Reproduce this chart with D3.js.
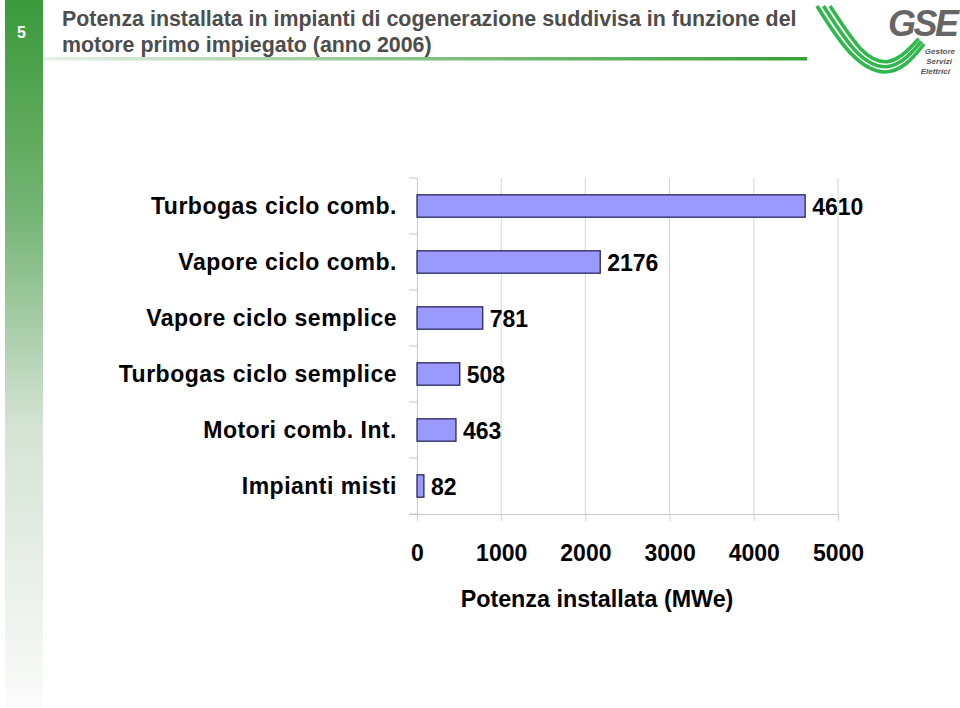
<!DOCTYPE html>
<html><head><meta charset="utf-8">
<script src="https://cdn.jsdelivr.net/npm/d3@7"></script>
<style>body{margin:0;background:#fff;}svg{display:block;font-family:Arial,"Liberation Sans",sans-serif;}</style>
</head><body>
<svg id="c" width="960" height="708"></svg>
<script>
const categories = ["Turbogas ciclo comb.","Vapore ciclo comb.","Vapore ciclo semplice","Turbogas ciclo semplice","Motori comb. Int.","Impianti misti"];
const values = [4610, 2176, 781, 508, 463, 82];
const tickValues = [0,1000,2000,3000,4000,5000];
const titleLines = ["Potenza installata in impianti di cogenerazione suddivisa in funzione del","motore primo impiegato (anno 2006)"];
const xTitle = "Potenza installata (MWe)";
const pageNum = "5";
const logoLines = ["Gestore","Servizi","Elettrici"];

const svg = d3.select("#c");
const defs = svg.append("defs");
const g1 = defs.append("linearGradient").attr("id","side").attr("x1",0).attr("y1",0).attr("x2",0).attr("y2",1);
g1.append("stop").attr("offset","0").attr("stop-color","#3a9a3a");
g1.append("stop").attr("offset","0.3").attr("stop-color","#74b474");
g1.append("stop").attr("offset","0.6").attr("stop-color","#d4e3d4");
g1.append("stop").attr("offset","1").attr("stop-color","#fbfbfb");
const g2 = defs.append("linearGradient").attr("id","hl").attr("x1",0).attr("y1",0).attr("x2",1).attr("y2",0);
g2.append("stop").attr("offset","0").attr("stop-color","#e6f0e6");
g2.append("stop").attr("offset","0.45").attr("stop-color","#8cc48c");
g2.append("stop").attr("offset","1").attr("stop-color","#38a038");

svg.append("rect").attr("x",5).attr("y",0).attr("width",38).attr("height",708).attr("fill","url(#side)");
svg.append("text").attr("x",17).attr("y",38).attr("fill","#fff").attr("font-weight","bold").attr("font-size",16).text(pageNum);

svg.append("rect").attr("x",44).attr("y",57).attr("width",763).attr("height",3.5).attr("fill","url(#hl)");
svg.selectAll("text.title").data(titleLines).join("text").attr("class","title")
  .attr("x",62).attr("y",(d,i)=>26+i*26).attr("fill","#4d4d4d").attr("font-size",21.4).attr("font-weight","bold").text(d=>d);

// logo
const logo = svg.append("g");
[0,1,2].forEach(k=>{
  const o = k*6.5;
  logo.append("path")
    .attr("d",`M${817+o},6 C${838+o},${40-k} ${858+o*0.6},${70-o*0.5} ${884+o*0.3},${72-o*0.8} C${900+o*0.1},${72-o} ${912-o*0.1},${60-o} ${924-o*0.4},${44-o*0.4}`)
    .attr("fill","none").attr("stroke","#2fb84c").attr("stroke-width",3.6);
});
logo.append("text").attr("x",888).attr("y",36).attr("font-size",36).attr("font-weight","bold").attr("font-style","italic").attr("fill","#666").attr("letter-spacing",-2.5).text("GSE");
logo.selectAll("text.ll").data(logoLines).join("text").attr("class","ll")
  .attr("x",(d,i)=>[955,952,950][i]).attr("y",(d,i)=>54+i*10).attr("text-anchor","end")
  .attr("font-size",8).attr("font-style","italic").attr("font-weight","bold").attr("fill","#555").text(d=>d);

// chart
const x0=417, x1=838, y0=178, y1=514;
const x = d3.scaleLinear().domain([0,5000]).range([x0,x1]);
const y = d3.scaleBand().domain(categories).range([y0,y1]).paddingInner(0.6).paddingOuter(0.3);
const yb = d3.scaleBand().domain(categories).range([y0,y1]);

// gridlines
svg.append("g").selectAll("line").data(tickValues.slice(1)).join("line")
  .attr("x1",d=>x(d)).attr("x2",d=>x(d)).attr("y1",y0).attr("y2",y1).attr("stroke","#d4d4d4").attr("stroke-width",1);

// axes
const ax = svg.append("g").attr("transform",`translate(0,${y1})`)
  .call(d3.axisBottom(x).tickValues(tickValues).tickSize(7).tickPadding(24).tickFormat(d3.format("d")));
ax.select(".domain").attr("stroke","#c8c8c8").attr("d",`M${x0-8},0.5H${x1}`);
ax.selectAll(".tick line").attr("stroke","#d0d0d0");
ax.selectAll(".tick text").attr("font-size",23).attr("font-weight","bold").attr("fill","#000").attr("font-family","Arial, Liberation Sans, sans-serif");

const ay = svg.append("g").attr("transform",`translate(${x0},0)`);
ay.append("line").attr("x1",0.5).attr("x2",0.5).attr("y1",y0).attr("y2",y1).attr("stroke","#c8c8c8");
ay.selectAll("line.t").data(d3.range(categories.length+1)).join("line").attr("class","t")
  .attr("x1",-8).attr("x2",0).attr("y1",i=>y0+i*yb.step()).attr("y2",i=>y0+i*yb.step()).attr("stroke","#c8c8c8");

svg.append("g").selectAll("text").data(categories).join("text")
  .attr("x",397).attr("y",d=>yb(d)+yb.bandwidth()/2+8).attr("text-anchor","end")
  .attr("font-size",23).attr("letter-spacing",0.5).attr("font-weight","bold").attr("fill","#000").text(d=>d);

// bars
svg.append("g").selectAll("rect").data(values).join("rect")
  .attr("x",x(0)).attr("y",(d,i)=>y(categories[i])).attr("width",d=>x(d)-x(0)).attr("height",y.bandwidth())
  .attr("fill","#9999ff").attr("stroke","#1c1c4c").attr("stroke-width",1.2);

svg.append("g").selectAll("text").data(values).join("text")
  .attr("x",d=>x(d)+7).attr("y",(d,i)=>y(categories[i])+y.bandwidth()/2+9)
  .attr("font-size",23).attr("font-weight","bold").attr("fill","#000").text(d=>d);

svg.append("text").attr("x",597).attr("y",607).attr("text-anchor","middle").attr("font-size",23.3).attr("font-weight","bold").attr("fill","#000").text(xTitle);
</script>
</body></html>
